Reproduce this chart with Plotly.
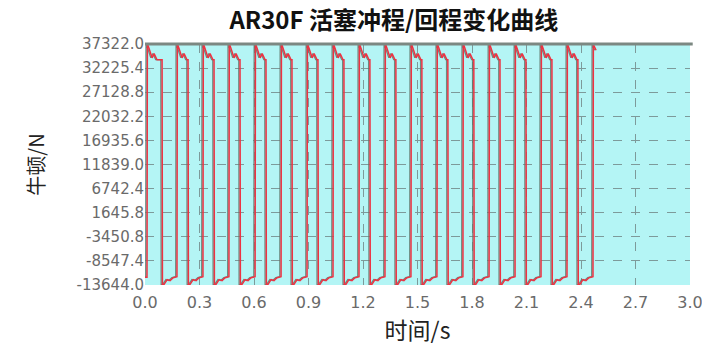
import plotly.graph_objects as go

# Stroke cycle timing (s): moment the force rises to the stroke level / drops to return level
rise_times = [0.011, 0.176, 0.319, 0.462, 0.606, 0.749, 0.892, 1.035, 1.178,
              1.321, 1.464, 1.607, 1.750, 1.894, 2.037, 2.180, 2.323, 2.466]
fall_times = [0.094, 0.237, 0.380, 0.523, 0.666, 0.809, 0.952, 1.095, 1.238,
              1.381, 1.524, 1.667, 1.810, 1.954, 2.097, 2.240, 2.383]

# Force profile during the stroke phase (offset from rise, s  ->  N)
stroke_dt = [0.002, 0.006, 0.028, 0.039, 0.055]
stroke_val = [37250, 37000, 34400, 35300, 34000]

# Force profile during the return phase (offset from drop, s  ->  N)
return_dt = [0.002, 0.011, 0.028, 0.044, 0.061, 0.077]
return_val = [-13600, -13500, -12500, -12700, -12100, -11900]

start_val = -12000
end_dt = [0.002, 0.006, 0.017]
end_val = [37250, 36800, 36000]

y_ticks = [37322.0, 32225.4, 27128.8, 22032.2, 16935.6, 11839.0,
           6742.4, 1645.8, -3450.8, -8547.4, -13644.0]
x_ticks = [0.0, 0.3, 0.6, 0.9, 1.2, 1.5, 1.8, 2.1, 2.4, 2.7, 3.0]

# assemble the force curve from the phase profiles
t, f = [0.0], [start_val]
for i, tr in enumerate(rise_times):
    t.append(tr); f.append(f[-1])
    if i < len(fall_times):
        for dt, v in zip(stroke_dt, stroke_val):
            t.append(tr + dt); f.append(v)
        tf = fall_times[i]
        t.append(tf); f.append(f[-1])
        for dt, v in zip(return_dt, return_val):
            t.append(tf + dt); f.append(v)
    else:
        for dt, v in zip(end_dt, end_val):
            t.append(tr + dt); f.append(v)

fig = go.Figure()
# trailing trace drawn slightly ahead in time (plotter's echo line)
fig.add_trace(go.Scatter(x=[v - 0.007 for v in t], y=f, mode="lines",
                         line=dict(color="rgba(95,120,108,0.85)", width=1.3),
                         hoverinfo="skip", showlegend=False))
fig.add_trace(go.Scatter(x=t, y=f, mode="lines",
                         line=dict(color="#ee3242", width=1.5),
                         name="力", showlegend=False))

grid = dict(showgrid=True, gridcolor="#7d9a9a", gridwidth=1, griddash="dash",
            zeroline=False, showline=False, ticks="", automargin=False)

fig.update_layout(
    width=702, height=355,
    margin=dict(l=145, r=12, t=44, b=70),
    paper_bgcolor="white", plot_bgcolor="#b4f5f5",
    title=dict(text="<b>AR30F 活塞冲程/回程变化曲线</b>", x=0.561, xanchor="center",
               y=0.942, yanchor="middle",
               font=dict(family="Noto Sans CJK SC", size=24, color="#111")),
    xaxis=dict(range=[0, 3.0], tickvals=x_ticks,
               ticktext=[f"{v:.1f}" for v in x_ticks],
               ticklabeloverflow="allow", ticklabelstandoff=6,
               tickfont=dict(family="DejaVu Sans", size=16, color="#6a6a6a"),
               title=dict(text="时间/s", standoff=10,
                          font=dict(family="Noto Sans CJK SC", size=23, color="#222")),
               **grid),
    yaxis=dict(range=[-13644.0, 37322.0], tickvals=y_ticks,
               ticktext=[f"{v:.1f}" for v in y_ticks],
               tickfont=dict(family="DejaVu Sans", size=15, color="#6a6a6a"),
               title=dict(text="牛顿/N", standoff=26,
                          font=dict(family="Noto Sans CJK SC", size=20, color="#222")),
               **grid),
    shapes=[dict(type="line", xref="paper", yref="paper", x0=0, x1=1.005, y0=1, y1=1,
                 line=dict(color="#7c8882", width=3))],
)

fig.write_html("out.html")
